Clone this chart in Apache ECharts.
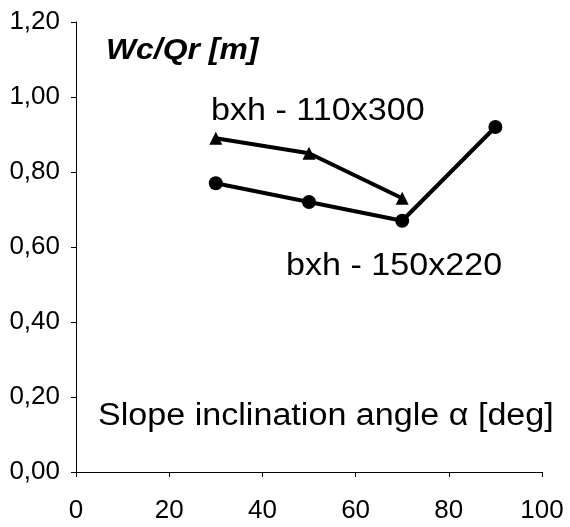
<!DOCTYPE html>
<html>
<head>
    <meta charset="utf-8">
    <title>Wc/Qr vs slope angle</title>
    <script src="https://cdn.jsdelivr.net/npm/echarts@6/dist/echarts.min.js"></script>
</head>
<body style="margin:0;background:#fff;">
    <div id="main" style="width:570px;height:527px;"></div>
    <script type="text/javascript">
        // data
        var angles = [30, 50, 70, 90];
        var bxh110x300 = [0.89, 0.85, 0.73, null];
        var bxh150x220 = [0.77, 0.72, 0.67, 0.92];

        function pairs(xs, ys) {
            var out = [];
            for (var i = 0; i < xs.length; i++) {
                if (ys[i] !== null) out.push([xs[i], ys[i]]);
            }
            return out;
        }

        var myChart = echarts.init(document.getElementById('main'));
        var font = 'Liberation Sans, Arial, sans-serif';

        // the scanned original is a little stretched sideways
        function label(txt, left, top, size, extra) {
            return {
                type: 'text', left: left, top: top, scaleX: 1.1,
                style: { text: txt, font: (extra || '') + size + 'px ' + font, fill: '#000' }
            };
        }

        var option = {
            backgroundColor: '#fff',
            animation: false,
            grid: { left: 76, right: 28, top: 22, bottom: 55 },
            xAxis: {
                type: 'value',
                min: 0, max: 100, interval: 20,
                axisLine: { lineStyle: { color: '#000', width: 1 } },
                axisTick: { show: true, length: 5, lineStyle: { color: '#000' } },
                axisLabel: { color: '#000', fontSize: 26, fontFamily: font, margin: 26 },
                splitLine: { show: false }
            },
            yAxis: {
                type: 'value',
                min: 0, max: 1.2, interval: 0.2,
                axisLine: { show: true, lineStyle: { color: '#000', width: 1 } },
                axisTick: { show: true, length: 5, lineStyle: { color: '#000' } },
                axisLabel: {
                    color: '#000', fontSize: 26, fontFamily: font, margin: 16,
                    formatter: function (v) { return v.toFixed(2).replace('.', ','); }
                },
                splitLine: { show: false }
            },
            graphic: [
                label('Wc/Qr [m]', 106, 36, 29, 'italic bold '),
                label('bxh - 110x300', 211, 96, 31),
                label('bxh - 150x220', 286, 251, 31),
                label('Slope inclination angle \u03b1 [deg]', 98, 401, 31)
            ],
            series: [
                {
                    name: 'bxh - 110x300',
                    type: 'line',
                    data: pairs(angles, bxh110x300),
                    symbol: 'triangle',
                    symbolSize: 13,
                    lineStyle: { color: '#000', width: 4 },
                    itemStyle: { color: '#000' }
                },
                {
                    name: 'bxh - 150x220',
                    type: 'line',
                    data: pairs(angles, bxh150x220),
                    symbol: 'circle',
                    symbolSize: 14,
                    lineStyle: { color: '#000', width: 4 },
                    itemStyle: { color: '#000' }
                }
            ]
        };
        myChart.setOption(option);
    </script>
</body>
</html>
